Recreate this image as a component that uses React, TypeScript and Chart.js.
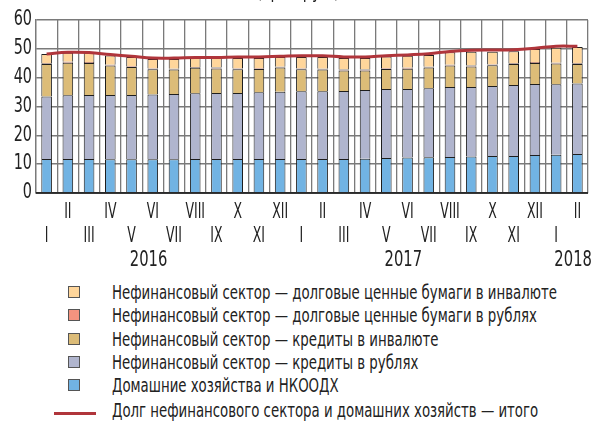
import React, { useEffect, useRef } from "react";
import { Chart, registerables } from "chart.js";

Chart.register(...registerables);

const months = ["I","II","III","IV","V","VI","VII","VIII","IX","X","XI","XII","I","II","III","IV","V","VI","VII","VIII","IX","X","XI","XII","I","II"];

const households = [11.8,11.8,11.8,11.7,11.7,11.7,11.7,11.8,11.8,11.8,11.8,11.8,11.8,11.8,11.8,11.9,12.1,12.3,12.4,12.5,12.7,12.8,12.8,13.2,13.3,13.5];
const rubLoans = [21.7,22.1,22.2,22.3,22.3,22.5,22.6,22.8,22.9,22.9,23.1,23.3,23.5,23.5,23.6,23.8,24.0,23.8,23.9,24.3,24.1,24.3,24.7,24.6,24.4,24.5];
const fxLoans = [11.2,11.3,11.1,10.2,9.7,8.7,8.5,8.8,8.5,8.2,8.1,8.4,7.6,7.5,7.1,6.8,6.9,7.0,7.2,7.4,7.1,7.2,7.2,7.3,7.2,6.7];
const rubBonds = [0.3,0.3,0.3,0.3,0.3,0.3,0.3,0.3,0.3,0.3,0.3,0.3,0.3,0.3,0.3,0.3,0.3,0.3,0.3,0.3,0.3,0.3,0.3,0.3,0.3,0.3];
const fxBonds = [3.2,3.1,3.2,3.2,3.2,3.3,3.4,3.1,3.3,3.6,3.5,3.4,4.0,4.1,4.0,4.0,4.0,4.2,4.1,4.3,4.8,4.4,4.2,4.5,5.2,5.6];
const totalDebt = [48.2,48.8,48.7,48.0,47.4,46.8,46.8,47.0,47.0,47.2,47.2,47.4,47.6,47.6,47.2,47.2,47.6,47.9,48.3,49.1,49.5,49.6,49.7,50.2,50.9,50.9];

const years = ["2016", "2017", "2018"];
const yearAnchors = [4.8, 16.8, 24.8];
const yTicks = [0, 10, 20, 30, 40, 50, 60];

const FONT = "'DejaVu Sans Condensed', 'DejaVu Sans', sans-serif";

const C_BLUE = "#71b3e3";
const C_LAV = "#b0b5ce";
const C_TAN = "#dcbc78";
const C_SALMON = "#f4937f";
const C_PEACH = "#ffd69b";
const C_RED = "#b0353b";

const legendItems = [
  { label: "Нефинансовый сектор — долговые ценные бумаги в инвалюте", color: C_PEACH, line: false },
  { label: "Нефинансовый сектор — долговые ценные бумаги в рублях", color: C_SALMON, line: false },
  { label: "Нефинансовый сектор — кредиты в инвалюте", color: C_TAN, line: false },
  { label: "Нефинансовый сектор — кредиты в рублях", color: C_LAV, line: false },
  { label: "Домашние хозяйства и НКООДХ", color: C_BLUE, line: false },
  { label: "Долг нефинансового сектора и домашних хозяйств — итого", color: C_RED, line: true },
];

function narrowText(ctx: CanvasRenderingContext2D, text: string, x: number, y: number, align: CanvasTextAlign, sx: number) {
  ctx.save();
  ctx.translate(x, y);
  ctx.scale(sx, 1);
  ctx.textAlign = align;
  ctx.textBaseline = "middle";
  ctx.fillText(text, 0, 0);
  ctx.restore();
}

const labelPlugin = {
  id: "narrowLabels",
  afterDraw(chart: any) {
    const xs = chart.scales.x;
    const ys = chart.scales.y;
    const ctx = chart.ctx as CanvasRenderingContext2D;
    const area = chart.chartArea;
    ctx.save();
    ctx.fillStyle = "#222";
    ctx.font = "21px " + FONT;
    months.forEach((m, i) => {
      const row = i % 2 === 0 ? 1 : 0;
      narrowText(ctx, m, xs.getPixelForTick(i), area.bottom + 20 + row * 23.5, "center", 0.66);
    });
    ctx.font = "20.5px " + FONT;
    yTicks.forEach((v) => {
      narrowText(ctx, String(v), area.left - 4, ys.getPixelForValue(v), "right", 0.78);
    });
    years.forEach((y, i) => {
      narrowText(ctx, y, xs.getPixelForValue(yearAnchors[i]), area.bottom + 68, "center", 0.8);
    });
    ctx.restore();
  },
};

const zeroLinePlugin = {
  id: "zeroLine",
  afterDatasetsDraw(c: any) {
    const ctx = c.ctx;
    const y = c.scales.y.getPixelForValue(0);
    ctx.save();
    ctx.strokeStyle = "#111";
    ctx.lineWidth = 1.5;
    ctx.beginPath();
    ctx.moveTo(c.chartArea.left, y);
    ctx.lineTo(c.chartArea.right, y);
    ctx.stroke();
    ctx.restore();
  },
};

export default function App() {
  const ref = useRef<HTMLCanvasElement>(null);
  useEffect(() => {
    document.body.style.margin = "0";
    const bar = (label: string, data: number[], color: string) => ({
      type: "bar" as const,
      label,
      data,
      backgroundColor: color,
      borderColor: "#1e1e1e",
      borderWidth: 1,
      stack: "s",
      order: 1,
      barPercentage: 0.5,
      categoryPercentage: 1,
    });
    const chart = new Chart(ref.current!, {
      type: "bar",
      data: {
        labels: months,
        datasets: [
          {
            type: "line" as const,
            label: legendItems[5].label,
            data: totalDebt,
            borderColor: C_RED,
            borderWidth: 3,
            pointRadius: 0,
            tension: 0.4,
            stack: "t",
            order: 0,
          } as any,
          bar(legendItems[4].label, households, C_BLUE),
          bar(legendItems[3].label, rubLoans, C_LAV),
          bar(legendItems[2].label, fxLoans, C_TAN),
          bar(legendItems[1].label, rubBonds, C_SALMON),
          bar(legendItems[0].label, fxBonds, C_PEACH),
        ],
      },
      options: {
        animation: false,
        responsive: false,
        layout: { padding: { top: 20, right: 5, left: 0, bottom: 0 } },
        plugins: { legend: { display: false }, tooltip: { enabled: false } },
        scales: {
          x: {
            stacked: true,
            afterFit: (s: any) => { s.height = 83; },
            grid: { color: "#7a7a7a", lineWidth: 1.3, drawTicks: false, offset: true },
            border: { color: "#7a7a7a", width: 1.3 },
            ticks: { display: false, autoSkip: false, maxRotation: 0 },
          },
          y: {
            stacked: true,
            min: 0,
            max: 60,
            afterFit: (s: any) => { s.width = 36; },
            afterBuildTicks: (s: any) => { s.ticks = yTicks.map((v) => ({ value: v })); },
            grid: { color: "#7a7a7a", lineWidth: 1.5, drawTicks: false },
            border: { color: "#7a7a7a", width: 1.3 },
            ticks: { display: false },
          },
        },
      },
      plugins: [labelPlugin, zeroLinePlugin],
    });
    return () => chart.destroy();
  }, []);

  const textStyle: React.CSSProperties = {
    position: "absolute",
    left: 112,
    top: 0,
    transform: "scaleX(0.74)",
    transformOrigin: "0 0",
  };

  return (
    <div style={{ position: "relative", width: 593, height: 428, overflow: "hidden", fontFamily: FONT, color: "#222" }}>
      <div style={{ position: "absolute", top: -19, left: 298, fontSize: 20, lineHeight: "20px", whiteSpace: "nowrap", transform: "translateX(-50%) scaleX(0.8)" }}>
        (трлн руб.)
      </div>
      <canvas ref={ref} width={593} height={276} style={{ display: "block" }} />
      <div style={{ position: "absolute", top: 281, left: 0 }}>
        {legendItems.map((it, i) => (
          <div key={i} style={{ position: "relative", height: it.line ? 26 : 23.3, fontSize: 20, lineHeight: it.line ? "26px" : "23.3px", whiteSpace: "nowrap" }}>
            {it.line ? (
              <span style={{ position: "absolute", left: 54, top: 15, width: 42, height: 3, background: it.color }} />
            ) : (
              <span style={{ position: "absolute", left: 68, top: 5, width: 10, height: 10, background: it.color, border: "1.5px solid #555" }} />
            )}
            <span style={textStyle}>{it.label}</span>
          </div>
        ))}
      </div>
    </div>
  );
}
